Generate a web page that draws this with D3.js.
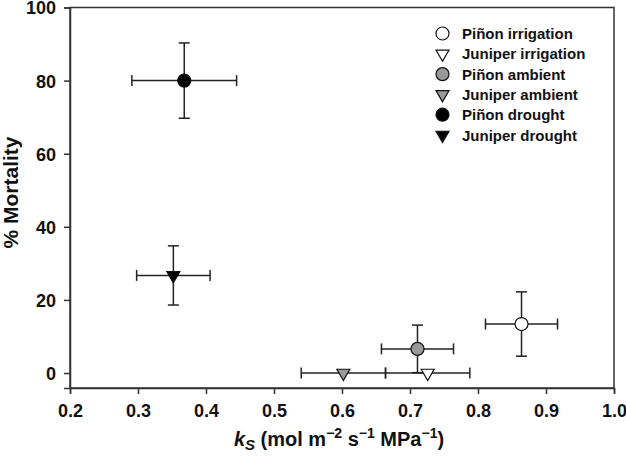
<!DOCTYPE html>
<html><head><meta charset="utf-8">
<script src="https://cdn.jsdelivr.net/npm/d3@7"></script>
<style>body{margin:0;background:#fff}svg{display:block}text{font-family:Arial,"Liberation Sans",sans-serif;font-weight:bold;fill:#111}</style>
</head><body>
<svg id="c" width="626" height="458"></svg>
<script>
const names = ["Piñon irrigation","Juniper irrigation","Piñon ambient","Juniper ambient","Piñon drought","Juniper drought"];
const shapes = ["circle","triangle","circle","triangle","circle","triangle"];
const fills = ["#ffffff","#ffffff","#999999","#999999","#000000","#000000"];
const ksMean = [0.864, 0.726, 0.711, 0.602, 0.368, 0.352];
const ksErr  = [0.053, 0.062, 0.053, 0.062, 0.077, 0.054];
const mortMean = [13.4, 0.0, 6.6, 0.0, 80.0, 26.7];
const mortErr  = [8.8, 0, 6.5, 0, 10.3, 8.1];
const xTicks = [0.2,0.3,0.4,0.5,0.6,0.7,0.8,0.9,1.0];
const yTicks = [0,20,40,60,80,100];

const svg = d3.select("#c");
const L=70, R=614, T=7.5, B=388;
const x = d3.scaleLinear().domain([0.2,1.0]).range([L,R]);
const y = d3.scaleLinear().domain([-4.1,100]).range([B,T]);
const ink="#222";

// frame
svg.append("rect").attr("x",L).attr("y",T).attr("width",R-L).attr("height",B-T)
  .attr("fill","none").attr("stroke","#333").attr("stroke-width",1.5);

const xa = svg.append("g").attr("transform",`translate(0,${B})`)
  .call(d3.axisBottom(x).tickValues(xTicks).tickFormat(d3.format(".1f")).tickSize(6).tickPadding(10));
const ya = svg.append("g").attr("transform",`translate(${L},0)`)
  .call(d3.axisLeft(y).tickValues(yTicks).tickSize(6).tickPadding(8));
[xa,ya].forEach(a=>{
  a.select(".domain").attr("stroke","#333").attr("stroke-width",1.5);
  a.selectAll(".tick line").attr("stroke","#333").attr("stroke-width",1.5);
  a.selectAll(".tick text").attr("font-size",18).attr("font-family","Arial, 'Liberation Sans', sans-serif").attr("font-weight","bold").attr("fill","#111");
});
ya.selectAll(".tick text").attr("dy","0.36em");

const data = names.map((n,i)=>({n,shape:shapes[i],fill:fills[i],x:ksMean[i],xe:ksErr[i],y:mortMean[i],ye:mortErr[i]}));
const cap=5.5;
const eb = svg.append("g").attr("stroke",ink).attr("stroke-width",1.5).attr("fill","none");
data.forEach(d=>{
  const cx=x(d.x), cy=y(d.y);
  const x0=x(d.x-d.xe), x1=x(d.x+d.xe);
  eb.append("line").attr("x1",x0).attr("x2",x1).attr("y1",cy).attr("y2",cy);
  eb.append("line").attr("x1",x0).attr("x2",x0).attr("y1",cy-cap).attr("y2",cy+cap);
  eb.append("line").attr("x1",x1).attr("x2",x1).attr("y1",cy-cap).attr("y2",cy+cap);
  if(d.ye>0){
    const y0=y(d.y-d.ye), y1=y(d.y+d.ye);
    eb.append("line").attr("x1",cx).attr("x2",cx).attr("y1",y0).attr("y2",y1);
    eb.append("line").attr("x1",cx-cap).attr("x2",cx+cap).attr("y1",y0).attr("y2",y0);
    eb.append("line").attr("x1",cx-cap).attr("x2",cx+cap).attr("y1",y1).attr("y2",y1);
  }
});
function sym(s){
  return s==="circle" ? d3.symbol(d3.symbolCircle,133)() : d3.symbol(d3.symbolTriangle,73)();
}
const mk = svg.append("g");
data.forEach(d=>{
  mk.append("path").attr("d",sym(d.shape))
    .attr("transform",`translate(${x(d.x)},${y(d.y)})${d.shape==="triangle"?" rotate(180)":""}`)
    .attr("fill",d.fill).attr("stroke","#111").attr("stroke-width",1.2);
});

// legend
const lg = svg.append("g");
data.forEach((d,i)=>{
  const ly = 33.5 + i*20.3;
  lg.append("path").attr("d",sym(d.shape))
    .attr("transform",`translate(442.5,${ly})${d.shape==="triangle"?" rotate(180)":""}`)
    .attr("fill",d.fill).attr("stroke","#111").attr("stroke-width",1.2);
  lg.append("text").attr("x",462).attr("y",ly+5.5).attr("font-size",15).text(d.n);
});

// axis titles
svg.append("text").attr("transform","translate(18,192.5) rotate(-90)").attr("text-anchor","middle")
  .attr("font-size",21).text("% Mortality");
const xt = svg.append("text").attr("x",339).attr("y",446).attr("text-anchor","middle").attr("font-size",20);
xt.append("tspan").attr("font-style","italic").text("k");
xt.append("tspan").attr("font-style","italic").attr("font-size",15).attr("dy",4).text("S");
xt.append("tspan").attr("dy",-4).text(" (mol m");
xt.append("tspan").attr("font-size",14).attr("dy",-8).text("−2");
xt.append("tspan").attr("dy",8).text(" s");
xt.append("tspan").attr("font-size",14).attr("dy",-8).text("−1");
xt.append("tspan").attr("dy",8).text(" MPa");
xt.append("tspan").attr("font-size",14).attr("dy",-8).text("−1");
xt.append("tspan").attr("dy",8).text(")");
</script>
</body></html>
